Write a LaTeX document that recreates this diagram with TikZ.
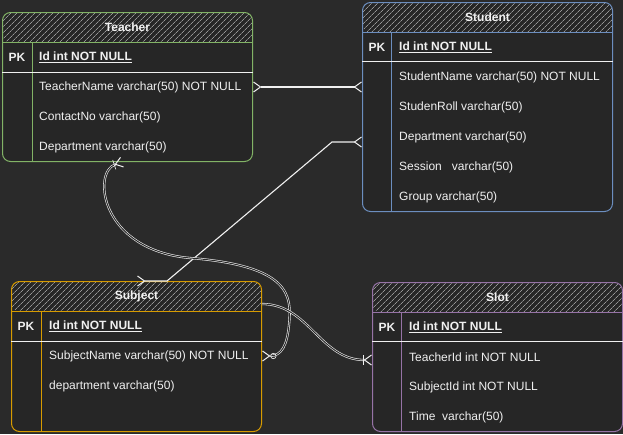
\documentclass[tikz,border=0pt]{standalone}
\usepackage{fontspec}
\setmainfont{Liberation Sans}
\usetikzlibrary{arrows.meta, positioning, calc, patterns.meta}
\definecolor{canvas}{HTML}{2A2A2A}
\definecolor{inner}{HTML}{262626}
\definecolor{ink}{HTML}{F0F0F0}
\definecolor{hatch}{HTML}{959595}
\definecolor{tgreen}{HTML}{82B366}
\definecolor{sblue}{HTML}{6C8EBF}
\definecolor{syellow}{HTML}{D79B00}
\definecolor{spurple}{HTML}{9673A6}

\tikzset{
  tablebox/.style={draw, line width=1pt, rounded corners=8pt, fill=inner,
    minimum width=250pt, anchor=north west, inner sep=0pt,
    path picture={\fill[pattern={Lines[angle=45, distance=4pt, line width=0.7pt]}, pattern color=hatch]
      (path picture bounding box.north west) rectangle ($(path picture bounding box.north east)+(0,30)$);}},
  title/.style={font=\fontsize{12}{14}\selectfont\bfseries, text=ink!85},
  key/.style={font=\fontsize{12}{14}\selectfont\bfseries, text=ink},
  field/.style={font=\fontsize{12}{14}\selectfont, text=ink, anchor=west, inner sep=0pt},
  crowfoot/.tip={Straight Barb[reversed, length=7pt, width=10pt, line width=1pt]},
  link/.style={draw=ink, line width=1.1pt},
  link2/.style={draw=ink, line width=0.6pt, double=canvas, double distance=1pt},
}

\begin{document}
\begin{tikzpicture}[x=1pt, y=-1pt]
  \useasboundingbox (0,0) rectangle (623,434);
  \fill[canvas] (0,0) rectangle (623,434);

  % Teacher
  \node[tablebox, draw=tgreen, minimum height=149pt] (teacher) at (2,12) {};
  \draw[tgreen, line width=1pt] ($(teacher.north west)+(0,30)$) -- ($(teacher.north east)+(0,30)$);
  \draw[tgreen, line width=1pt] ($(teacher.north west)+(30,30)$) -- ($(teacher.south west)+(30,0)$);
  \draw[ink, line width=0.8pt] ($(teacher.north west)+(0,60)$) -- ($(teacher.north east)+(0,60)$);
  \node[title] (teacher-title) at ($(teacher.north)+(0,15)$) {Teacher};
  \node[key] (teacher-pk) at ($(teacher.north west)+(15,45)$) {PK};
  \node[field, font=\fontsize{12}{14}\selectfont\bfseries] (teacher-id) at ($(teacher.north west)+(37,45)$) {\underline{Id int NOT NULL}};
  \foreach \f [count=\i] in {{TeacherName varchar(50) NOT NULL}, {ContactNo varchar(50)}, {Department varchar(50)}}
    \node[field] (teacher-\i) at ($(teacher.north west)+(37,45+30*\i)$) {\f};

  % Student
  \node[tablebox, draw=sblue, minimum height=209pt] (student) at (362,2) {};
  \draw[sblue, line width=1pt] ($(student.north west)+(0,30)$) -- ($(student.north east)+(0,30)$);
  \draw[sblue, line width=1pt] ($(student.north west)+(29,30)$) -- ($(student.south west)+(29,0)$);
  \draw[ink, line width=0.8pt] ($(student.north west)+(0,59)$) -- ($(student.north east)+(0,59)$);
  \node[title] (student-title) at ($(student.north)+(0,15)$) {Student};
  \node[key] (student-pk) at ($(student.north west)+(15,45)$) {PK};
  \node[field, font=\fontsize{12}{14}\selectfont\bfseries] (student-id) at ($(student.north west)+(37,45)$) {\underline{Id int NOT NULL}};
  \foreach \f [count=\i] in {{StudentName varchar(50) NOT NULL}, {StudenRoll varchar(50)}, {Department varchar(50)},
      {Session\ \ \ varchar(50)}, {Group varchar(50)}}
    \node[field] (student-\i) at ($(student.north west)+(37,45+30*\i)$) {\f};

  % Subject
  \node[tablebox, draw=syellow, minimum height=150pt] (subject) at (11,281) {};
  \draw[syellow, line width=1pt] ($(subject.north west)+(0,30)$) -- ($(subject.north east)+(0,30)$);
  \draw[syellow, line width=1pt] ($(subject.north west)+(30,30)$) -- ($(subject.south west)+(30,0)$);
  \draw[ink, line width=0.8pt] ($(subject.north west)+(0,60)$) -- ($(subject.north east)+(0,60)$);
  \node[title] (subject-title) at ($(subject.north)+(0,15)$) {Subject};
  \node[key] (subject-pk) at ($(subject.north west)+(15,45)$) {PK};
  \node[field, font=\fontsize{12}{14}\selectfont\bfseries] (subject-id) at ($(subject.north west)+(38,45)$) {\underline{Id int NOT NULL}};
  \foreach \f [count=\i] in {{SubjectName varchar(50) NOT NULL}, {department varchar(50)}}
    \node[field] (subject-\i) at ($(subject.north west)+(38,45+30*\i)$) {\f};

  % Slot
  \node[tablebox, draw=spurple, minimum height=149pt] (slot) at (372,282) {};
  \draw[spurple, line width=1pt] ($(slot.north west)+(0,30)$) -- ($(slot.north east)+(0,30)$);
  \draw[spurple, line width=1pt] ($(slot.north west)+(29,30)$) -- ($(slot.south west)+(29,0)$);
  \draw[ink, line width=0.8pt] ($(slot.north west)+(0,59)$) -- ($(slot.north east)+(0,59)$);
  \node[title] (slot-title) at ($(slot.north)+(0,15)$) {Slot};
  \node[key] (slot-pk) at ($(slot.north west)+(15,45)$) {PK};
  \node[field, font=\fontsize{12}{14}\selectfont\bfseries] (slot-id) at ($(slot.north west)+(37,45)$) {\underline{Id int NOT NULL}};
  \foreach \f [count=\i] in {{TeacherId int NOT NULL}, {SubjectId int NOT NULL}, {Time\ \ varchar(50)}}
    \node[field] (slot-\i) at ($(slot.north west)+(37,45+30*\i)$) {\f};

  % links
  \draw[link, {crowfoot[]}-{crowfoot[]}] (teacher-1.east -| teacher.east) -- (teacher-1.east -| student.west);
  \coordinate (dept-in) at ($(student-3.west -| student.west)+(0,5)$);
  \coordinate (subject-top) at ($(subject.north west)+(126,0)$);
  \draw[link, {crowfoot[]}-{crowfoot[]}] (dept-in) -- ++(-30,0) -- ($(subject-top)+(30,0)$) -- (subject-top);
  \draw[link2, {crowfoot[] Bar[width=10pt]}-{Circle[open, length=6pt] crowfoot[]}] ($(teacher.south)+(-5,0)$)
    .. controls (92,172) and (100,250) .. (190,258)
    .. controls (290,266) and (292,295) .. (289,325)
    .. controls (287,345) and (282,356) .. (subject-1.east -| subject.east);
  \draw[link2, -{Bar[width=10pt] crowfoot[]}] ($(subject-title.east -| subject.east)+(0,8)$)
    .. controls +(47,0) and +(-52,0) .. ($(slot-1.west -| slot.west)+(0,3)$);
\end{tikzpicture}
\end{document}
